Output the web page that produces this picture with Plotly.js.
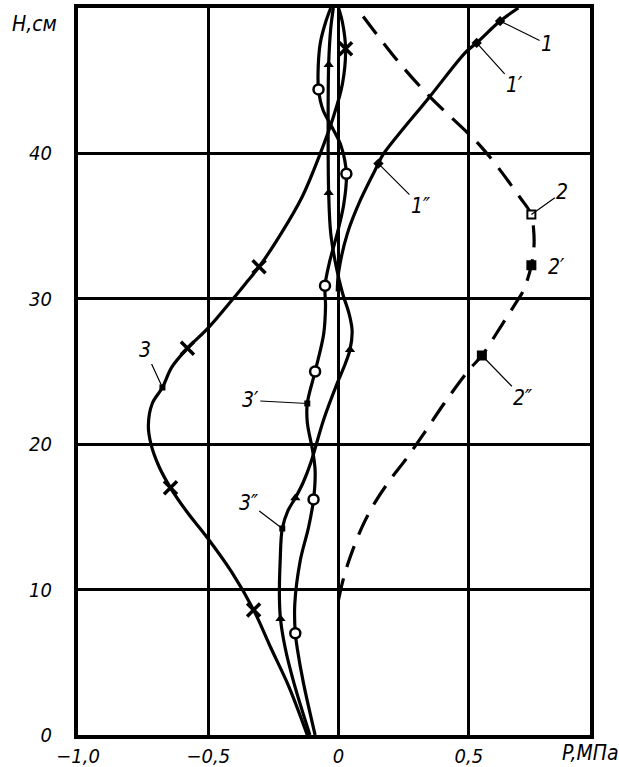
<!DOCTYPE html>
<html>
<head>
<meta charset="utf-8">
<script src="https://cdn.plot.ly/plotly-3.0.1.min.js"></script>
<style>body{margin:0;background:#fff}</style>
</head>
<body>
<div id="chart" style="width:619px;height:767px"></div>
<script>
// axis ticks
const xTicks = [-1, -0.5, 0, 0.5];
const xTickText = ['\u22121,0', '\u22120,5', '0', '0,5'];
const yTicks = [0, 10, 20, 30, 40];
const yTickText = ['0', '10', '20', '30', '40'];

// curve 1 (solid, top right), P in MPa, H in cm
const c1P = [0.69, 0.62, 0.53, 0.49, 0.35, 0.17, 0.153, 0.084, 0.034, 0.0, -0.005];
const c1H = [50, 49.1, 47.6, 47, 43.9, 39.9, 39.3, 36.8, 34.5, 31.8, 30.5];
const c1MarkP = [0.62, 0.53, 0.153];
const c1MarkH = [49.1, 47.6, 39.3];

// curve 2 (dashed)
const c2P = [0, 0.015, 0.04, 0.09, 0.14, 0.2, 0.26, 0.33, 0.405, 0.5, 0.55, 0.63, 0.68, 0.71, 0.74, 0.75, 0.748, 0.74, 0.695, 0.55, 0.35, 0.225, 0.07];
const c2H = [9.3, 10.5, 12, 14.3, 16, 17.6, 19.0, 20.8, 22.8, 25.1, 26.1, 28.3, 29.7, 30.6, 32.3, 33.6, 34.9, 35.8, 37.0, 40.4, 43.9, 46.4, 50];
const c2MarkP = [0.74, 0.74, 0.55];
const c2MarkH = [35.8, 32.3, 26.1];

// curve 3 (crosses)
const c3P = [-0.12, -0.19, -0.26, -0.326, -0.41, -0.505, -0.58, -0.645, -0.69, -0.72, -0.73, -0.715, -0.676, -0.64, -0.58, -0.5, -0.405, -0.35, -0.305, -0.22, -0.14, -0.07, -0.02, 0.015, 0.027, 0.015, 0.0];
const c3H = [0, 3.3, 6.0, 8.6, 11.2, 13.6, 15.3, 17.0, 18.5, 20, 21.3, 22.8, 23.9, 25.3, 26.6, 28.0, 30.0, 31.2, 32.2, 34.5, 37, 40, 42.5, 44.8, 47.2, 49, 50];
const c3CrossP = [-0.326, -0.645, -0.58, -0.305, 0.027];
const c3CrossH = [8.6, 17.0, 26.6, 32.2, 47.2];

// curve with circles (3')
const ciP = [-0.09, -0.135, -0.158, -0.166, -0.168, -0.147, -0.115, -0.096, -0.09, -0.1, -0.12, -0.12, -0.09, -0.057, -0.05, -0.052, -0.035, -0.005, 0.02, 0.03, 0.01, -0.025, -0.06, -0.077, -0.078, -0.07, -0.05, -0.03];
const ciH = [0, 3.6, 5.9, 7.0, 9, 12, 14.3, 16.2, 18.2, 19.6, 21.5, 22.8, 25.0, 27.6, 29.5, 30.9, 32.5, 34.5, 36.5, 38.6, 40.5, 41.8, 43, 44.4, 46, 47.6, 49, 50];
const ciMarkP = [-0.166, -0.096, -0.09, -0.052, 0.03, -0.077];
const ciMarkH = [7.0, 16.2, 25.0, 30.9, 38.6, 44.4];

// curve with triangles (3'')
const trP = [-0.11, -0.17, -0.205, -0.223, -0.227, -0.224, -0.216, -0.195, -0.166, -0.135, -0.107, -0.057, -0.005, 0.025, 0.044, 0.052, 0.04, 0.015, -0.01, -0.03, -0.038, -0.04, -0.038, -0.03, -0.02];
const trH = [0, 3.5, 6, 8.0, 9.5, 12, 14.2, 15.4, 16.3, 17.4, 18.7, 21.7, 24.2, 25.5, 26.5, 27.8, 29.0, 30.4, 32.3, 34.5, 37.3, 41, 46.1, 48.6, 50];
const trMarkP = [-0.223, -0.166, 0.044, -0.038, -0.038];
const trMarkH = [8.0, 16.3, 26.5, 37.3, 46.1];

// labelled points
const labText = ['1', '1\u2032', '1\u2033', '2', '2\u2033', '3', '3\u2032', '3\u2033'];
const labP = [0.62, 0.53, 0.153, 0.74, 0.55, -0.676, -0.12, -0.216];
const labH = [49.1, 47.6, 39.3, 35.8, 26.1, 23.9, 22.8, 14.2];

const font = {family: 'DejaVu Sans Condensed, Liberation Sans Narrow, DejaVu Sans, sans-serif', size: 21, color: '#000', style: 'italic'};
const tickFont = Object.assign({}, font, {size: 20});

function curve(x, y, dash) {
    return {x: x, y: y, type: 'scatter', mode: 'lines', hoverinfo: 'skip',
        line: {color: '#000', width: 3.2, shape: 'spline', smoothing: 1, dash: dash || 'solid'}};
}
function marks(x, y, marker) {
    return {x: x, y: y, type: 'scatter', mode: 'markers', hoverinfo: 'skip', marker: marker};
}

let data = [
    curve(c1P, c1H),
    curve(c2P, c2H, '22px,12px'),
    curve(c3P, c3H),
    curve(ciP, ciH),
    curve(trP, trH),
    marks(c1MarkP, c1MarkH, {symbol: 'diamond', size: 8, color: '#000'}),
    marks(c2MarkP, c2MarkH, {symbol: 'square', size: 8, color: ['#fff', '#000', '#000'], line: {color: '#000', width: 2}}),
    marks(c3CrossP, c3CrossH, {symbol: 'x-thin-open', size: 13, color: '#000', line: {color: '#000', width: 3.5}}),
    marks(ciMarkP, ciMarkH, {symbol: 'circle', size: 10, color: '#fff', line: {color: '#000', width: 2.5}}),
    marks(trMarkP, trMarkH, {symbol: 'triangle-up', size: 9, color: '#000'}),
    marks([-0.676, -0.12, -0.216], [23.9, 22.8, 14.2], {symbol: 'square', size: 6, color: '#000'})
];

// leader offsets (pixels) from point to label
const labAx = [47, 38, 42, 31, 41, -17, -57, -34];
const labAy = [23, 42, 42, -22, 42, -37, -3, -26];

let annotations = labText.map((t, i) => ({
    x: labP[i], y: labH[i], xref: 'x', yref: 'y', text: t,
    showarrow: true, arrowhead: 0, arrowwidth: 1.2, arrowcolor: '#000',
    ax: labAx[i], ay: labAy[i], font: font
}));
annotations.push({x: 0.838, y: 32.2, xref: 'x', yref: 'y', text: '2\u2032', showarrow: false, font: font});
annotations.push({x: -0.085, y: 0.997, xref: 'paper', yref: 'paper', text: 'H,\u0441\u043c', showarrow: false, xanchor: 'center', yanchor: 'top', font: font});
annotations.push({x: 1.0, y: -0.005, xref: 'paper', yref: 'paper', text: 'P,\u041c\u041f\u0430', showarrow: false, xanchor: 'center', yanchor: 'top', font: font});

let layout = {
    width: 619, height: 767,
    margin: {l: 78, r: 29, t: 8, b: 32},
    paper_bgcolor: '#fff', plot_bgcolor: '#fff',
    showlegend: false,
    separators: ', ',
    font: font,
    xaxis: {
        range: [-1, 0.965], tickmode: 'array', tickvals: xTicks, ticktext: xTickText,
        showgrid: true, gridcolor: '#000', gridwidth: 3, zeroline: false,
        showline: true, mirror: true, linecolor: '#000', linewidth: 4,
        ticks: '', ticklabelstandoff: 0, tickfont: tickFont
    },
    yaxis: {
        range: [0, 50], tickmode: 'array', tickvals: yTicks, ticktext: yTickText,
        showgrid: true, gridcolor: '#000', gridwidth: 3, zeroline: false,
        showline: true, mirror: true, linecolor: '#000', linewidth: 4,
        ticks: '', ticklabelstandoff: 18, tickfont: tickFont
    },
    annotations: annotations
};

Plotly.newPlot('chart', data, layout, {displayModeBar: false, staticPlot: true});
</script>
</body>
</html>
